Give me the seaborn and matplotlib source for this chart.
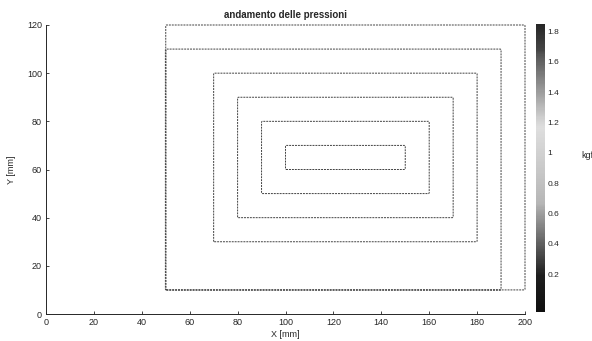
import numpy as np
import matplotlib
matplotlib.use("Agg")
import matplotlib.pyplot as plt
from matplotlib.colors import ListedColormap, Normalize
from matplotlib.cm import ScalarMappable
import seaborn as sns

# nested pressure regions (mm) and their plateau values (kgf)
x_left = [50, 50, 70, 80, 90, 100]
x_right = [200, 190, 180, 170, 160, 150]
y_bottom = [10, 10, 30, 40, 50, 60]
y_top = [120, 110, 100, 90, 80, 70]
plateau = [0.2, 0.5, 0.8, 1.1, 1.4, 1.8]
contour_levels = [0.1, 0.35, 0.65, 0.95, 1.25, 1.6]

cbar_min, cbar_max = -0.05, 1.85
cbar_ticks = [0.2, 0.4, 0.6, 0.8, 1.0, 1.2, 1.4, 1.6, 1.8]
x_ticks = [0, 20, 40, 60, 80, 100, 120, 140, 160, 180, 200]
y_ticks = [0, 20, 40, 60, 80, 100, 120]

sns.set_style("ticks")
plt.rcParams['font.family'] = ['Liberation Sans', 'DejaVu Sans']
plt.rcParams['xtick.direction'] = 'in'
plt.rcParams['ytick.direction'] = 'in'

# grid with nodes offset by half a step so region edges fall between nodes
xs = np.arange(-4.75, 205, 0.5)
ys = np.arange(-4.75, 125, 0.5)
X, Y = np.meshgrid(xs, ys)
Z = np.zeros_like(X)
for xl, xr, yb, yt, p in zip(x_left, x_right, y_bottom, y_top, plateau):
    Z[(X > xl) & (X < xr) & (Y > yb) & (Y < yt)] = p

# jet colormap seen through a greyscale scan
jet = matplotlib.colormaps['jet'](np.linspace(0, 1, 256))
lum = 0.299 * jet[:, 0] + 0.587 * jet[:, 1] + 0.114 * jet[:, 2]
gray_jet = ListedColormap(np.stack([lum, lum, lum], axis=1))

W, H = 592, 341
fig = plt.figure(figsize=(W / 100, H / 100), dpi=100)
ax = fig.add_axes([46 / W, 1 - 314 / H, (525 - 46) / W, (314 - 25) / H])

cs = ax.contour(X, Y, Z, levels=contour_levels, colors='0.25',
                linewidths=0.7, linestyles=[(0, (2, 1))])
cs.set_clip_on(False)

ax.set_xlim(0, 200)
ax.set_ylim(0, 120)
ax.set_xticks(x_ticks)
ax.set_yticks(y_ticks)
ax.tick_params(labelsize=6.5, length=2.5, width=0.6, pad=3)
sns.despine(ax=ax)
for s in ['left', 'bottom']:
    ax.spines[s].set_linewidth(0.7)
    ax.spines[s].set_color('0.15')

ax.set_title("andamento delle pressioni", fontsize=7, fontweight='bold', pad=5)
ax.set_xlabel("X [mm]", fontsize=6.5, labelpad=2)
ax.set_ylabel("Y [mm]", fontsize=6.5, labelpad=8)

cax = fig.add_axes([536 / W, 1 - 312 / H, 9 / W, 288 / H])
sm = ScalarMappable(norm=Normalize(cbar_min, cbar_max), cmap=gray_jet)
cb = fig.colorbar(sm, cax=cax, ticks=cbar_ticks, format='%g')
cb.outline.set_visible(False)
cax.tick_params(labelsize=6, length=0, pad=2)
fig.text(581 / W, 1 - 155 / H, "kgf", fontsize=6.5, ha='left', va='center')

fig.savefig("out.png", dpi=100)
